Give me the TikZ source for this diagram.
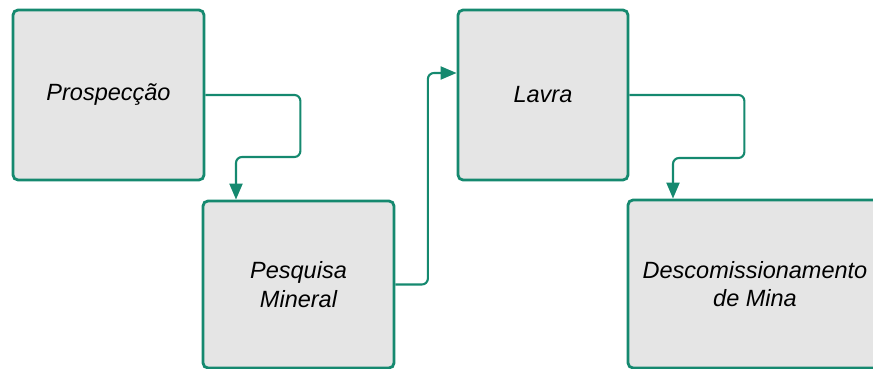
\documentclass[tikz,border=0pt]{standalone}
\usepackage{fontspec}
\setmainfont{Liberation Sans}
\usepackage{tikz}
\usetikzlibrary{arrows.meta}

\definecolor{boxline}{RGB}{21,137,111}
\definecolor{boxfill}{RGB}{229,229,229}

\tikzset{
  stage/.style={draw=boxline, fill=boxfill, line width=2.8pt, rounded corners=5pt,
    align=center, inner sep=0pt, font=\fontsize{23.5}{28.5}\selectfont\itshape},
  flow/.style={draw=boxline, line width=2.1pt, rounded corners=6pt,
    -{Triangle[length=16pt,width=13pt]}}
}

\begin{document}
\begin{tikzpicture}[x=1pt,y=1pt]
                \useasboundingbox (0,0) rectangle (873,369);

                % Stages
                \node[stage, minimum width=191pt, minimum height=170pt] (pros) at (108.5,274) {Prospecção};
                \node[stage, minimum width=191pt, minimum height=167pt] (pesq) at (298.5,84.5) {Pesquisa\\Mineral};
                \node[stage, minimum width=170pt, minimum height=170pt] (lavra) at (543,274) {Lavra};
                \node[stage, minimum width=254pt, minimum height=168pt] (desc) at (755,85) {Descomissionamento\\de Mina};

                % Connectors
                \draw[flow] (pros.east) -- ++(95,0) -- ++(0,-62) -| ([xshift=-62.5pt]pesq.north);
                \draw[flow] (pesq.east) -- ++(32.5,0) |- ([yshift=22pt]lavra.west);
                \draw[flow] (lavra.east) -- ++(115,0) -- ++(0,-63) -| ([xshift=-82pt]desc.north);
\end{tikzpicture}
\end{document}
